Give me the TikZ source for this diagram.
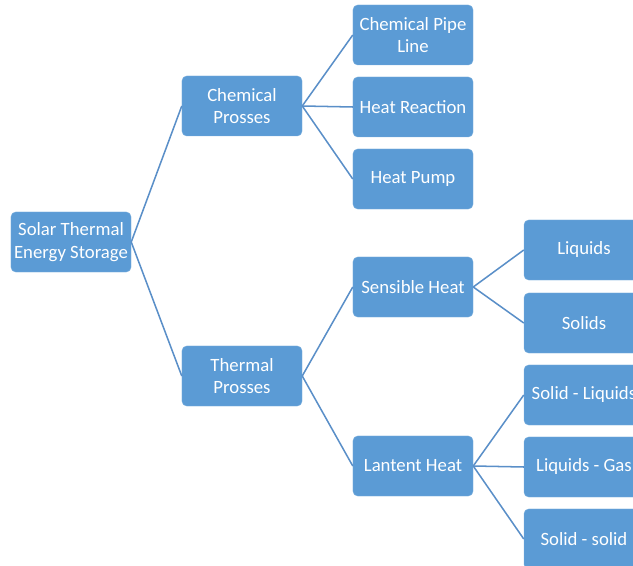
\documentclass[tikz,border=0pt]{standalone}
\usepackage{fontspec}
\setmainfont{Carlito}
\usepackage{xcolor}
\usetikzlibrary{positioning}

\definecolor{boxblue}{HTML}{5B9BD5}
\definecolor{linkblue}{HTML}{5A8FC8}

\begin{document}
\begin{tikzpicture}[
    x=0.03cm, y=-0.03cm,
    box/.style={rectangle, fill=boxblue, draw=boxblue!80!white, line width=0.4pt, rounded corners=4pt, minimum width=3.6cm, minimum height=1.8cm, inner sep=1pt, align=center, text=white, font=\fontsize{16}{19.5}\selectfont},
    link/.style={draw=linkblue, line width=1.3pt},
]
% page frame (boxes on the right run off the page)
\clip (0,0) rectangle (633,566);

% root
\node[box] (root) at (71,242) {Solar Thermal\\Energy Storage};

% second level
\node[box] (chem) at (242,106) {Chemical\\Prosses};
\node[box] (therm) at (242,376) {Thermal\\Prosses};

% chemical branch
\node[box] (pipe) at (413,35) {Chemical Pipe\\Line};
\node[box] (reaction) at (413,107) {Heat Reaction};
\node[box] (pump) at (413,179) {Heat Pump};

% thermal branch
\node[box] (sensible) at (413,287) {Sensible Heat};
\node[box] (latent) at (413,466) {Lantent Heat};

% leaves
\node[box] (liquids) at (584,250) {Liquids};
\node[box] (solids) at (584,323) {Solids};
\node[box] (solliq) at (584,395) {Solid - Liquids};
\node[box] (liqgas) at (584,467) {Liquids - Gas};
\node[box] (solsol) at (584,539) {Solid - solid};

% connectors
\draw[link] (root.east) -- (chem.west);
\draw[link] (root.east) -- (therm.west);
\draw[link] (chem.east) -- (pipe.west);
\draw[link] (chem.east) -- (reaction.west);
\draw[link] (chem.east) -- (pump.west);
\draw[link] (therm.east) -- (sensible.west);
\draw[link] (therm.east) -- (latent.west);
\draw[link] (sensible.east) -- (liquids.west);
\draw[link] (sensible.east) -- (solids.west);
\draw[link] (latent.east) -- (solliq.west);
\draw[link] (latent.east) -- (liqgas.west);
\draw[link] (latent.east) -- (solsol.west);

\end{tikzpicture}
\end{document}
